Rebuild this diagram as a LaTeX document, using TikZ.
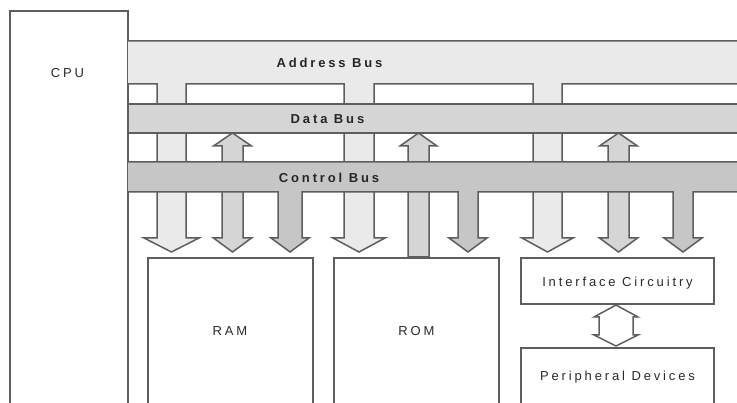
\documentclass[tikz,border=0pt]{standalone}
\usepackage{fontspec}
\setmainfont{Liberation Sans}
\newfontfamily\lblfont[LetterSpace=22]{Liberation Sans}
\definecolor{edge}{HTML}{5E5E5E}
\definecolor{addrfill}{HTML}{EAEAEA}
\definecolor{datafill}{HTML}{D5D5D5}
\definecolor{ctrlfill}{HTML}{C6C6C6}
\definecolor{inkc}{HTML}{2A2A2A}
\begin{document}
\begin{tikzpicture}[x=1pt,y=-1pt,
  outline/.style={draw=edge,line width=1.5pt,line join=miter},
  box/.style={outline,fill=white},
  lbl/.style={inner sep=0pt,text=inkc,font=\lblfont\fontsize{13}{15}\selectfont},
  buslbl/.style={inner sep=0pt,text=black!85,font=\lblfont\bfseries\fontsize{13}{15}\selectfont}]
\useasboundingbox (0,0) rectangle (737,403);
\clip (0,0) rectangle (737,403);
\fill[white] (0,0) rectangle (737,403);

% CPU block
\draw[box] (10,11) rectangle (128,430);
\node[lbl] (cpu) at (67.5,73) {CPU};

% address bus with its three branches down to the devices
\draw[outline,fill=addrfill]
  (128,41) -- (760,41) -- (760,84) -- (562,84) -- (562,238) -- (573,238)
  -- (547.5,252) -- (522,238) -- (533,238) -- (533,84) -- (374,84)
  -- (374,238) -- (385,238) -- (359,252) -- (333,238) -- (344,238)
  -- (344,84) -- (186,84) -- (186,238) -- (199,238) -- (171.5,252)
  -- (144,238) -- (157,238) -- (157,84) -- (128,84);

% data lines: two-way to RAM and interface, one-way from ROM
\draw[outline,fill=datafill]
  (232.5,133) -- (251.5,146) -- (243,146) -- (243,238) -- (251.5,238)
  -- (232.5,252) -- (213.5,238) -- (222,238) -- (222,146) -- (213.5,146) -- cycle;
\draw[outline,fill=datafill]
  (618.5,133) -- (637.5,146) -- (629,146) -- (629,238) -- (637.5,238)
  -- (618.5,252) -- (599.5,238) -- (608,238) -- (608,146) -- (599.5,146) -- cycle;
\draw[outline,fill=datafill]
  (418.5,133) -- (437,146) -- (429,146) -- (429,257) -- (408,257)
  -- (408,146) -- (400,146) -- cycle;

% data bus
\draw[outline,fill=datafill] (128,104) rectangle (760,133);

% control bus with its three down-going lines
\draw[outline,fill=ctrlfill]
  (128,162) -- (760,162) -- (760,192) -- (693,192) -- (693,238) -- (702,238)
  -- (683,252) -- (664,238) -- (673,238) -- (673,192) -- (478,192)
  -- (478,238) -- (487,238) -- (468,252) -- (449,238) -- (458,238)
  -- (458,192) -- (302,192) -- (302,238) -- (309,238) -- (290,252)
  -- (271,238) -- (278,238) -- (278,192) -- (128,192);

\node[buslbl] (abus) at (329.5,63) {Address Bus};
\node[buslbl] (dbus) at (327.5,119) {Data Bus};
\node[buslbl] (cbus) at (329,178) {Control Bus};

% memories and I/O
\draw[box] (148,258) rectangle (313,430);
\node[lbl] (ram) at (230,331) {RAM};
\draw[box] (334,258) rectangle (499,430);
\node[lbl] (rom) at (416.5,331) {ROM};
\draw[box] (521,258) rectangle (714,304);
\node[lbl] (intf) at (617.5,283) {Interface Circuitry};
\draw[box] (521,348) rectangle (714,430);
\node[lbl] (periph) at (617.5,377) {Peripheral Devices};

% two-way link between interface and peripherals
\draw[outline,fill=white]
  (616,305) -- (638,317) -- (633,317) -- (633,335) -- (638,335)
  -- (616,346) -- (594,335) -- (599,335) -- (599,317) -- (594,317) -- cycle;
\end{tikzpicture}
\end{document}
